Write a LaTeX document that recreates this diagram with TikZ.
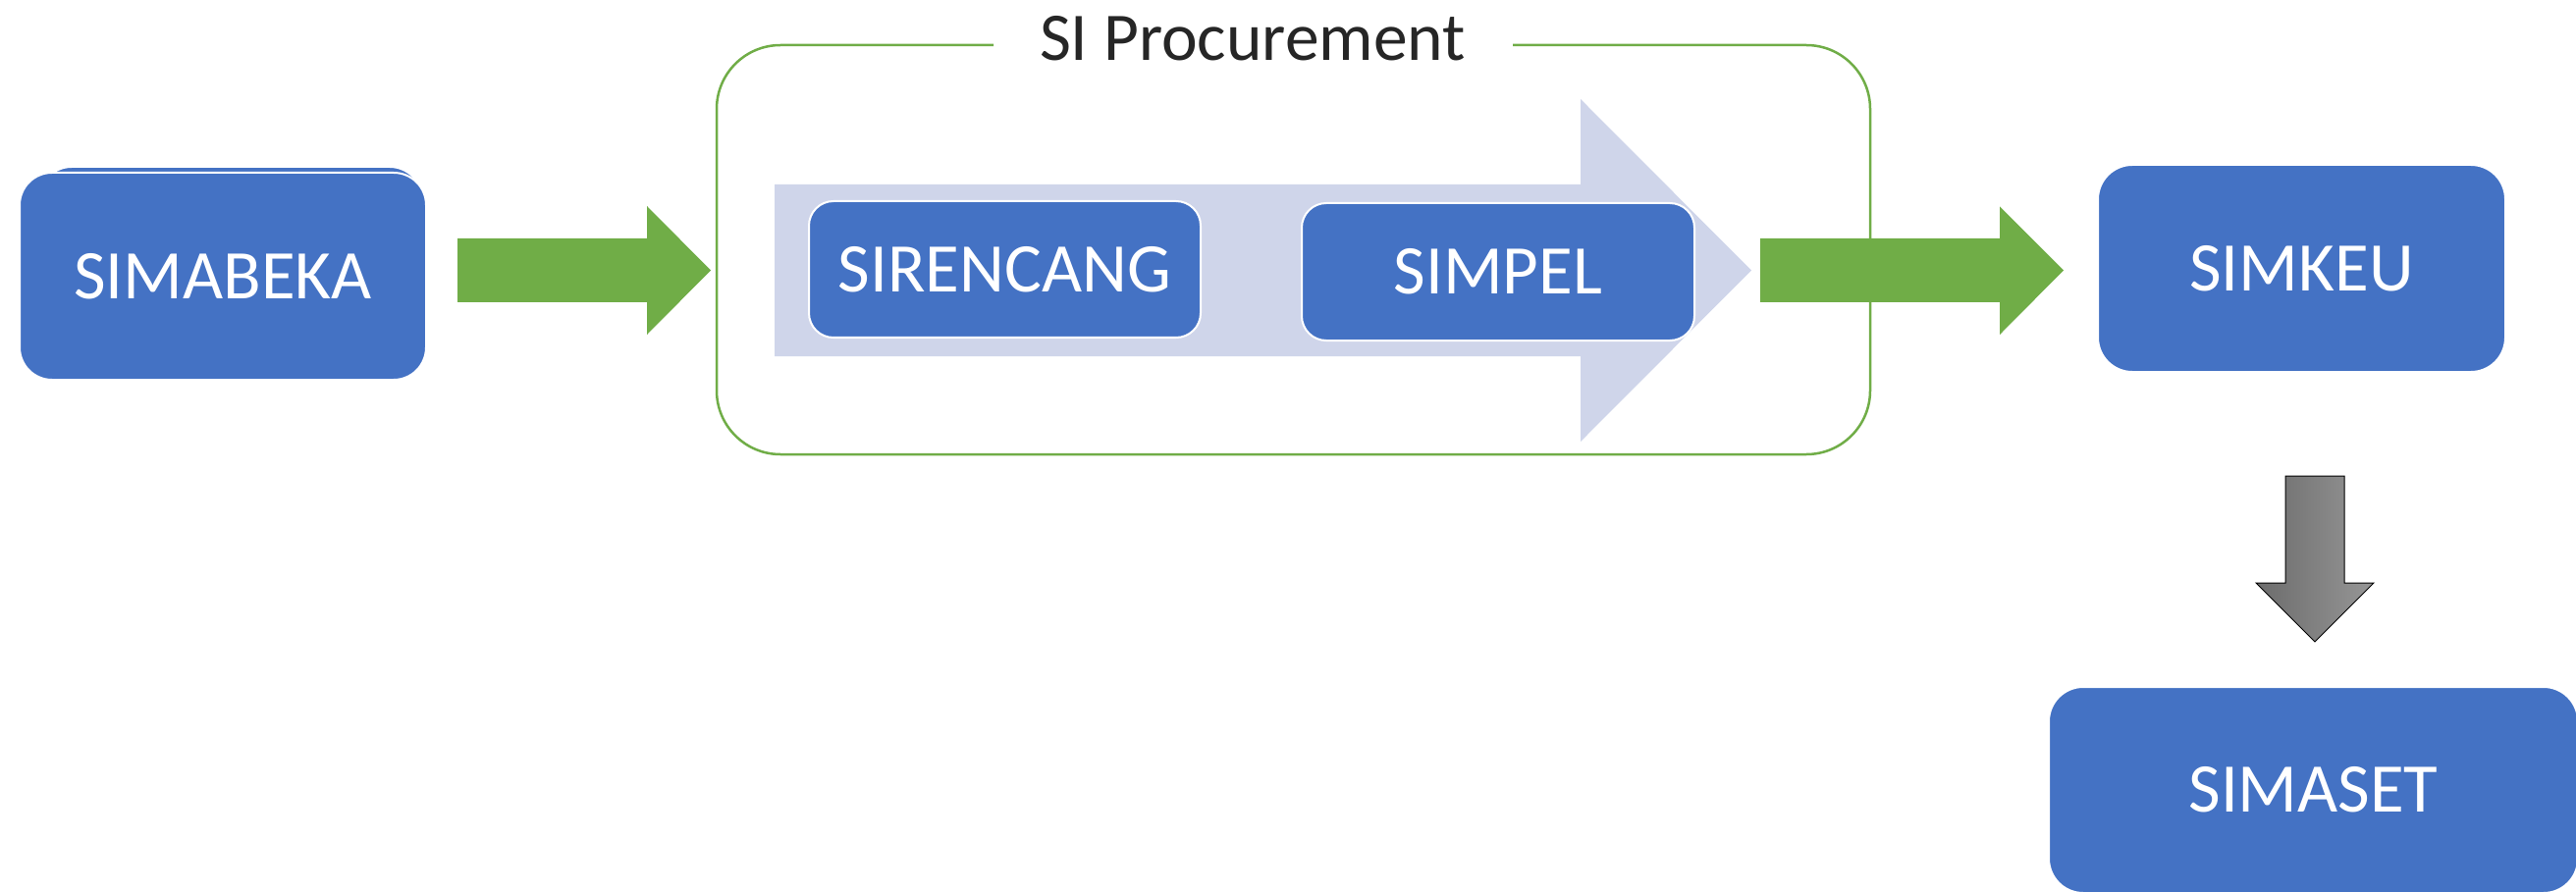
\documentclass[tikz,border=0pt]{standalone}
\usepackage{fontspec}
\setmainfont{Carlito}
\definecolor{boxblue}{HTML}{4472C4}
\definecolor{arrgreen}{HTML}{70AD47}
\definecolor{lightarr}{HTML}{CFD5EA}
\definecolor{graydark}{RGB}{108,108,108}
\definecolor{graylight}{RGB}{150,150,150}
\begin{document}
\begin{tikzpicture}[x=1pt,y=-1pt,
  sysbox/.style={rectangle, fill=boxblue, draw=white, line width=2pt, inner sep=0pt,
    text=white, font=\fontsize{71}{80}\selectfont},
  blockarrow/.style={fill=arrgreen, draw=none},
  frame/.style={draw=arrgreen, line width=2.5pt, rounded corners=65pt}]
\useasboundingbox (0,0) rectangle (2624,909);
\clip (0,0) rectangle (2624,909);
\fill[white] (0,0) rectangle (2624,909);

% SI Procurement container with gap for title
\draw[frame] (1012,46) -- (730,46) -- (730,463) -- (1905,463) -- (1905,46) -- (1541,46);
\node[anchor=base, font=\fontsize{69.5}{78}\selectfont, text=black!85, inner sep=0pt] (title) at (1276,62) {SI Procurement};

% light process arrow
\fill[lightarr] (789,188) -- (1610,188) -- (1610,101) -- (1784,275.5) -- (1610,450) -- (1610,363) -- (789,363) -- cycle;

% SIMABEKA (stacked)
\draw[fill=boxblue, draw=white, line width=2pt, rounded corners=33pt] (40,170) rectangle (430,381);
\node[sysbox, rounded corners=33pt, minimum width=414pt, minimum height=211pt] (simabeka) at (227,281.5) {SIMABEKA};

% inner boxes
\node[sysbox, rounded corners=25pt, minimum width=399pt, minimum height=139pt] (sirencang) at (1023.5,274.5) {SIRENCANG};
\node[sysbox, rounded corners=25pt, minimum width=400pt, minimum height=140pt] (simpel) at (1526,277) {SIMPEL};

% right boxes
\node[sysbox, rounded corners=35pt, minimum width=415pt, minimum height=211pt] (simkeu) at (2344.5,273.5) {SIMKEU};
\node[sysbox, rounded corners=35pt, minimum width=539pt, minimum height=210pt] (simaset) at (2356.5,805) {SIMASET};

% green block arrows
\fill[blockarrow] (466,243) -- (659,243) -- (659,210) -- (724,275.5) -- (659,341) -- (659,308) -- (466,308) -- cycle;
\fill[blockarrow] (1793,243) -- (2037,243) -- (2037,210.5) -- (2102,275.5) -- (2037,341) -- (2037,308) -- (1793,308) -- cycle;

% gray down arrow
\draw[left color=graydark, right color=graylight, draw=black, line width=1pt]
  (2328,485) -- (2388,485) -- (2388,594) -- (2418,594) -- (2358,654) -- (2298,594) -- (2328,594) -- cycle;
\end{tikzpicture}
\end{document}
